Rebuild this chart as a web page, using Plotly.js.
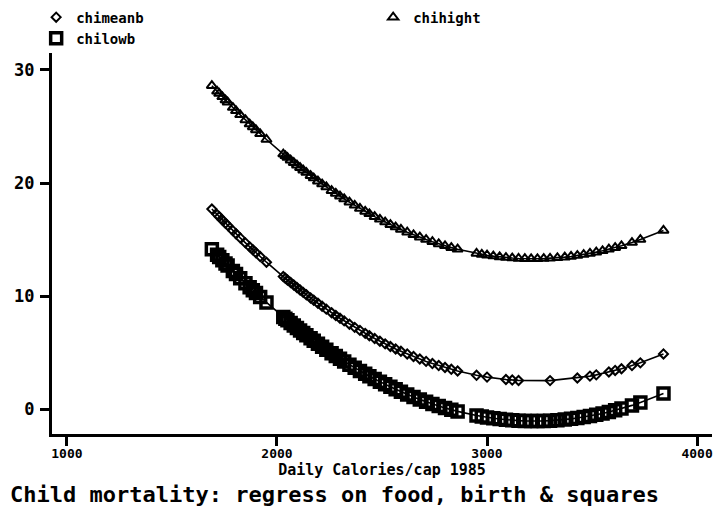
<!DOCTYPE html>
<html>
<head>
<meta charset="utf-8">
<script src="https://cdn.plot.ly/plotly-3.0.1.min.js"></script>
<style>html,body{margin:0;padding:0;background:#fff;}#chart{width:714px;height:512px;}</style>
</head>
<body>
<div id="chart"></div>
<script>
// Daily calories per capita 1985 (x) for each country point
const calories = [1690,1715,1725,1740,1755,1765,1790,1805,1825,1850,1870,1885,1900,1920,1950,
  2030,2040,2050,2065,2080,2095,2110,2125,2140,2160,2175,2195,2215,2235,2260,2280,2300,2320,2345,2370,2395,2420,2440,2465,2490,2515,2540,2565,2590,2620,2650,2680,2710,2740,2770,2800,2830,2860,
  2950,2975,3000,3030,3060,3090,3120,3150,3180,3210,3240,3270,3300,
  3335,3370,3400,3430,3460,3490,3520,3550,3580,3610,3640,3690,3730,3840];

const chihight = [28.61,28.11,27.92,27.63,27.34,27.15,26.67,26.39,26.03,25.58,25.22,24.96,24.70,24.35,23.85,
  22.56,22.41,22.25,22.02,21.80,21.58,21.36,21.14,20.93,20.65,20.44,20.17,19.91,19.65,19.33,19.08,18.84,18.60,18.31,18.03,17.75,17.49,17.28,17.03,16.79,16.55,16.32,16.11,15.90,15.65,15.42,15.21,15.00,14.81,14.62,14.45,14.29,14.15,
  13.78,13.69,13.62,13.54,13.47,13.41,13.37,13.33,13.31,13.30,13.30,13.32,13.34,
  13.39,13.45,13.51,13.59,13.68,13.78,13.89,14.01,14.15,14.29,14.45,14.74,15.00,15.81];

const chilowb = [14.15,13.66,13.46,13.17,12.89,12.70,12.23,11.96,11.59,11.14,10.79,10.53,10.27,9.93,9.44,
  8.16,8.01,7.86,7.63,7.41,7.19,6.97,6.75,6.54,6.27,6.06,5.79,5.53,5.27,4.96,4.71,4.47,4.23,3.94,3.66,3.39,3.13,2.92,2.68,2.43,2.20,1.98,1.76,1.55,1.31,1.08,0.87,0.66,0.47,0.29,0.11,-0.04,-0.19,
  -0.56,-0.65,-0.72,-0.80,-0.87,-0.93,-0.98,-1.01,-1.04,-1.05,-1.05,-1.04,-1.01,
  -0.97,-0.91,-0.85,-0.78,-0.69,-0.60,-0.49,-0.37,-0.24,-0.09,0.06,0.34,0.59,1.39];

// middle series has fewer countries in the upper range
const caloriesMid = [1690,1715,1725,1740,1755,1765,1790,1805,1825,1850,1870,1885,1900,1920,1950,
  2030,2040,2050,2065,2080,2095,2110,2125,2140,2160,2175,2195,2215,2235,2260,2280,2300,2320,2345,2370,2395,2420,2440,2465,2490,2515,2540,2565,2590,2620,2650,2680,2710,2740,2770,2800,2830,2860,
  2950,3000,3090,3120,3150,3300,3430,3490,3520,3580,3610,3640,3690,3730,3840];
const chimeanb = [17.70,17.21,17.02,16.73,16.45,16.26,15.79,15.52,15.15,14.71,14.36,14.10,13.84,13.50,13.00,
  11.73,11.58,11.43,11.20,10.98,10.76,10.54,10.33,10.12,9.84,9.63,9.37,9.10,8.85,8.53,8.29,8.04,7.81,7.52,7.24,6.97,6.71,6.50,6.25,6.01,5.78,5.55,5.33,5.13,4.89,4.66,4.44,4.23,4.04,3.86,3.69,3.53,3.38,
  3.00,2.84,2.63,2.58,2.54,2.53,2.76,2.93,3.04,3.29,3.43,3.58,3.86,4.10,4.89];

const xTicks = [1000,2000,3000,4000];
const yTicks = [0,10,20,30];

const mono = '"DejaVu Sans Mono", "Liberation Mono", monospace';

function lineTrace(x, y) {
  return {x: x, y: y, type: 'scatter', mode: 'lines', showlegend: false, hoverinfo: 'skip',
    line: {color: '#000', width: 1.6}};
}
function markTrace(x, y, name, symbol, size, lw) {
  return {x: x, y: y, name: name, type: 'scatter', mode: 'markers',
    marker: {symbol: symbol, size: size, color: '#000', line: {width: lw, color: '#000'}}};
}

const traces = [
  lineTrace(caloriesMid, chimeanb),
  lineTrace(calories, chihight),
  lineTrace(calories, chilowb),
  markTrace(caloriesMid, chimeanb, 'chimeanb', 'diamond-open', 7, 2),
  markTrace(calories, chihight, 'chihight', 'triangle-up-open', 9, 2),
  markTrace(calories, chilowb, 'chilowb', 'square-open', 11, 3.5)
];

const layout = {
  width: 714, height: 512,
  paper_bgcolor: '#fff', plot_bgcolor: '#fff',
  margin: {l: 52, r: 2, t: 50, b: 78},
  showlegend: true,
  legend: {orientation: 'h', x: -0.024, xanchor: 'left', y: 1.135, yanchor: 'top',
    entrywidth: 292, entrywidthmode: 'pixels', tracegroupgap: 0,
    font: {family: mono, size: 14, color: '#000', weight: 'bold'}, bgcolor: 'rgba(0,0,0,0)'},
  title: {text: 'Child mortality: regress on food, birth & squares',
    x: 0.014, xanchor: 'left', xref: 'container', y: 0.035, yanchor: 'middle', yref: 'container',
    font: {family: mono, size: 22, color: '#000', weight: 'bold'}},
  xaxis: {range: [929, 4071], tickvals: xTicks, ticktext: xTicks.map(String),
    showgrid: false, zeroline: false, showline: true, linecolor: '#000', linewidth: 3,
    ticks: 'outside', ticklen: 9, tickwidth: 3, tickcolor: '#000', ticklabelstandoff: -4,
    tickfont: {family: mono, size: 13, color: '#000', weight: 'bold'},
    title: {text: 'Daily Calories/cap 1985', standoff: 0,
      font: {family: mono, size: 15, color: '#000', weight: 'bold'}}},
  yaxis: {range: [-2.19, 31.5], tickvals: yTicks, ticktext: yTicks.map(String),
    showgrid: false, zeroline: false, showline: true, linecolor: '#000', linewidth: 3,
    ticks: 'outside', ticklen: 9, tickwidth: 3, tickcolor: '#000', ticklabelstandoff: 2,
    tickfont: {family: mono, size: 17, color: '#000', weight: 'bold'}}
};

Plotly.newPlot('chart', traces, layout, {displayModeBar: false, staticPlot: true});
</script>
</body>
</html>
